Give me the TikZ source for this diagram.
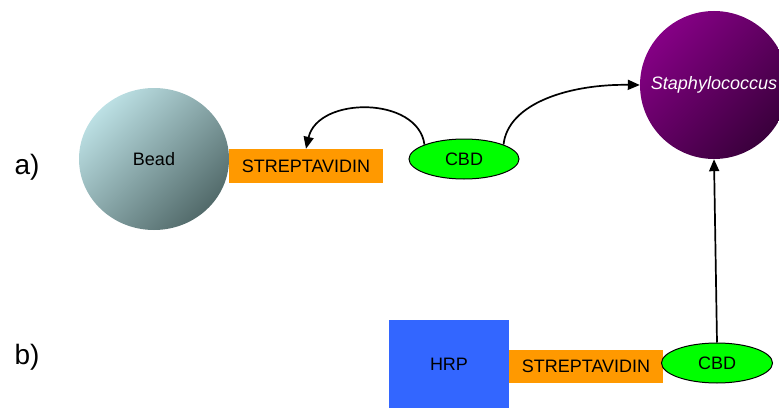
\documentclass[tikz,border=0pt]{standalone}
\usepackage{fontspec}
\setmainfont{Liberation Sans}
\usetikzlibrary{shapes.geometric,arrows.meta}
\definecolor{orng}{HTML}{FF9900}
\definecolor{cbdgreen}{HTML}{00FF00}
\definecolor{hrpblue}{HTML}{3366FF}
\definecolor{beadlight}{HTML}{BCE0E4}
\definecolor{beaddark}{HTML}{526A6A}
\definecolor{staphlight}{HTML}{850085}
\definecolor{staphdark}{HTML}{3A003C}
\tikzset{
  lbl/.style={font=\fontsize{18}{20}\selectfont},
  streptbox/.style={lbl, fill=orng, minimum width=154pt, minimum height=34pt, inner sep=0pt},
  cbd/.style={lbl, ellipse, draw=black, line width=1pt, fill=cbdgreen, minimum width=110pt, minimum height=40pt, inner sep=0pt},
  conn/.style={line width=1.7pt, -{Triangle[length=12pt,width=10pt]}},
  tag/.style={font=\fontsize{28}{32}\selectfont}
}
\begin{document}
\begin{tikzpicture}[x=1pt,y=1pt]
\useasboundingbox (0,0) rectangle (779,408);
\clip (0,0) rectangle (779,408);
% a)
\node[tag] (taga) at (27,241) {a)};
\node[ellipse, minimum width=150pt, minimum height=142pt, inner sep=0pt,
      top color=beadlight, bottom color=beaddark, shading angle=45, lbl] (bead) at (154,249) {Bead};
\node[streptbox] (strepa) at (306,242) {STREPTAVIDIN};
\node[cbd] (cbda) at (464,249) {CBD};
\node[circle, minimum size=148pt, inner sep=0pt,
      top color=staphlight, bottom color=staphdark, shading angle=45,
      text=white, font=\fontsize{18}{20}\selectfont\itshape] (staph) at (714,323) {Staphylococcus};
\draw[conn] (cbda.160) .. controls (418,312) and (318,312) .. (strepa.north);
\draw[conn] (cbda.20) .. controls (508,305) and (570,324) .. (staph.west);
% b)
\node[tag] (tagb) at (27,51) {b)};
\node[lbl, fill=hrpblue, minimum width=120pt, minimum height=88pt, inner sep=0pt] (hrp) at (449,44) {HRP};
\node[streptbox, minimum height=33pt] (strepb) at (586,41.5) {STREPTAVIDIN};
\node[cbd, minimum width=111pt] (cbdb) at (717,45) {CBD};
\draw[conn] (cbdb.north) -- (staph.south);
\end{tikzpicture}
\end{document}
